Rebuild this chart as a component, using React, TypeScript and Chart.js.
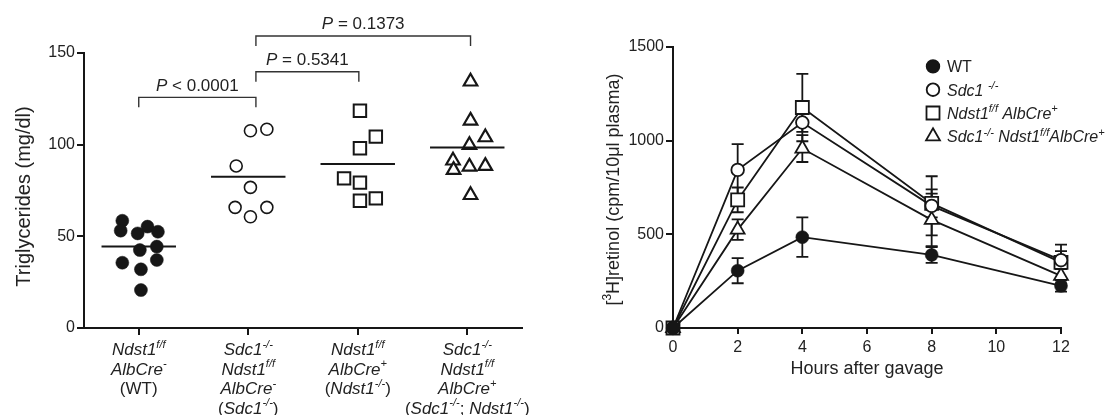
import React, { useEffect, useRef } from "react";
import { Chart, registerables } from "chart.js";

Chart.register(...registerables);

const FONT = "'Liberation Sans', Arial, Helvetica, sans-serif";
const INK = "#161616";
const TEXT = "#222222";

// ---------------- Left panel: triglycerides ----------------
const groupLabels: string[][] = [
  ["*Ndst1*^{f/f}", "*AlbCre*^{-}", "(WT)"],
  ["*Sdc1*^{-/-}", "*Ndst1*^{f/f}", "*AlbCre*^{-}", "(*Sdc1*^{-/-})"],
  ["*Ndst1*^{f/f}", "*AlbCre*^{+}", "(*Ndst1*^{-/-})"],
  ["*Sdc1*^{-/-}", "*Ndst1*^{f/f}", "*AlbCre*^{+}", "(*Sdc1*^{-/-}; *Ndst1*^{-/-})"],
];
const groupPositions = [0, 1, 2, 3];
const wtTG = [58.5, 53.1, 51.6, 55.3, 52.5, 42.5, 44.4, 35.6, 37.1, 32.0, 20.7];
const wtJitter = [-0.15, -0.165, -0.01, 0.08, 0.175, 0.01, 0.165, -0.15, 0.165, 0.02, 0.02];
const sdc1TG = [107.6, 108.4, 88.4, 76.7, 65.8, 60.7, 65.8];
const sdc1Jitter = [0.02, 0.17, -0.11, 0.02, -0.12, 0.02, 0.17];
const ndst1TG = [118.5, 104.4, 98.0, 81.6, 79.3, 69.4, 70.7];
const ndst1Jitter = [0.02, 0.165, 0.02, -0.125, 0.02, 0.02, 0.165];
const dkoTG = [134.4, 113.1, 104.0, 99.8, 91.3, 86.2, 88.0, 88.4, 72.5];
const dkoJitter = [0.03, 0.03, 0.165, 0.02, -0.13, -0.125, 0.02, 0.165, 0.03];
const groupMeans = [44.4, 82.5, 89.5, 98.5];
const tgTicks = [0, 50, 100, 150];
const tgTitle = "Triglycerides (mg/dl)";
const pLabels = ["*P* < 0.0001", "*P* = 0.5341", "*P* = 0.1373"];
const pFrom = [0, 1.07, 1.07];
const pTo = [1.07, 2.01, 3.03];
const pLevel = [125.8, 139.8, 159.3];

// ---------------- Right panel: retinol ----------------
const hours = [0, 2, 4, 8, 12];
const hourTicks = [0, 2, 4, 6, 8, 10, 12];
const retinolTicks = [0, 500, 1000, 1500];
const retinolWT = [0, 306, 485, 390, 225];
const retinolWTErr = [0, 67, 105, 42, 31];
const retinolSdc1 = [0, 844, 1097, 652, 362];
const retinolSdc1Err = [0, 138, 50, 158, 48];
const retinolNdst1 = [0, 684, 1177, 665, 350];
const retinolNdst1Err = [0, 66, 180, 75, 95];
const retinolDKO = [0, 525, 958, 577, 278];
const retinolDKOErr = [0, 55, 72, 140, 40];
const legendLabels = [
  "WT",
  "*Sdc1* ^{-/-}",
  "*Ndst1*^{f/f} *AlbCre*^{+}",
  "*Sdc1*^{-/-} *Ndst1*^{f/f}*AlbCre*^{+}",
];
const retinolTitle = "[^[3]H]retinol (cpm/10\u03bcl plasma)";
const hoursTitle = "Hours after gavage";

// ---------------- rich text helpers ----------------
type Seg = { t: string; it: boolean; sup: boolean };
function parseRich(s: string): Seg[] {
  return s
    .split(/(\*[^*]+\*|\^\{[^}]*\}|\^\[[^\]]*\])/)
    .filter((p) => p.length > 0)
    .map((p) => {
      if (p.length > 1 && p.startsWith("*") && p.endsWith("*")) return { t: p.slice(1, -1), it: true, sup: false };
      if (p.startsWith("^{")) return { t: p.slice(2, -1), it: true, sup: true };
      if (p.startsWith("^[")) return { t: p.slice(2, -1), it: false, sup: true };
      return { t: p, it: false, sup: false };
    });
}
function segFont(seg: Seg, size: number) {
  const s = seg.sup ? Math.round(size * 0.66) : size;
  return `${seg.it ? "italic " : ""}${s}px ${FONT}`;
}
function richWidth(ctx: CanvasRenderingContext2D, s: string, size: number) {
  let w = 0;
  for (const seg of parseRich(s)) {
    ctx.font = segFont(seg, size);
    w += ctx.measureText(seg.t).width;
  }
  return w;
}
function drawRich(
  ctx: CanvasRenderingContext2D,
  s: string,
  x: number,
  y: number,
  size: number,
  align: "left" | "center"
) {
  const total = richWidth(ctx, s, size);
  let cx = align === "center" ? x - total / 2 : x;
  ctx.textAlign = "left";
  ctx.textBaseline = "alphabetic";
  ctx.fillStyle = TEXT;
  for (const seg of parseRich(s)) {
    ctx.font = segFont(seg, size);
    ctx.fillText(seg.t, cx, seg.sup ? y - size * 0.42 : y);
    cx += ctx.measureText(seg.t).width;
  }
}

function axisStyle(tickLen: number) {
  return {
    grid: { display: true, drawOnChartArea: false, drawTicks: true, tickLength: tickLen, color: INK, lineWidth: 2 },
    border: { display: true, color: INK, width: 2 },
  };
}
const plainTick = (v: any) => String(v);

// ---------------- left chart ----------------
function leftConfig(): any {
  const pts = (vals: number[], jit: number[], g: number) => vals.map((v, i) => ({ x: groupPositions[g] + jit[i], y: v }));
  const meanHalf = 0.34;
  const meanSets = groupMeans.map((m, g) => ({
    data: [
      { x: groupPositions[g] - meanHalf, y: m },
      { x: groupPositions[g] + meanHalf, y: m },
    ],
    showLine: true,
    borderColor: INK,
    borderWidth: 2,
    pointRadius: 0,
    order: 0,
  }));
  const leftPlugin = {
    id: "leftDecor",
    afterDraw(chart: any) {
      const ctx: CanvasRenderingContext2D = chart.ctx;
      const xs = chart.scales.x;
      const ys = chart.scales.y;
      const area = chart.chartArea;
      ctx.save();
      // category labels
      groupLabels.forEach((lines, g) => {
        const cx = xs.getPixelForValue(groupPositions[g]);
        lines.forEach((ln, k) => drawRich(ctx, ln, cx, 355 + k * 19.5, 17, "center"));
      });
      // significance brackets
      ctx.strokeStyle = "#333";
      ctx.lineWidth = 1.4;
      pLabels.forEach((lab, i) => {
        const x1 = xs.getPixelForValue(pFrom[i]);
        const x2 = xs.getPixelForValue(pTo[i]);
        const y = ys.getPixelForValue(pLevel[i]);
        ctx.beginPath();
        ctx.moveTo(x1, y + 10);
        ctx.lineTo(x1, y);
        ctx.lineTo(x2, y);
        ctx.lineTo(x2, y + 10);
        ctx.stroke();
        drawRich(ctx, lab, (x1 + x2) / 2, y - 6.5, 17, "center");
      });
      // y title
      ctx.translate(24, (area.top + area.bottom) / 2 + 6);
      ctx.rotate(-Math.PI / 2);
      ctx.font = `20px ${FONT}`;
      ctx.fillStyle = TEXT;
      ctx.textAlign = "center";
      ctx.textBaseline = "middle";
      ctx.fillText(tgTitle, 0, 0);
      ctx.restore();
    },
  };
  return {
    type: "scatter",
    data: {
      datasets: [
        ...meanSets,
        { data: pts(wtTG, wtJitter, 0), pointStyle: "circle", pointRadius: 6.5, backgroundColor: INK, borderColor: INK, borderWidth: 0.5, order: 1 },
        { data: pts(sdc1TG, sdc1Jitter, 1), pointStyle: "circle", pointRadius: 6.0, backgroundColor: "#fff", borderColor: INK, borderWidth: 1.6, order: 1 },
        { data: pts(ndst1TG, ndst1Jitter, 2), pointStyle: "rect", pointRadius: 8.8, backgroundColor: "#fff", borderColor: INK, borderWidth: 2, order: 1 },
        { data: pts(dkoTG, dkoJitter, 3), pointStyle: "triangle", pointRadius: 7.8, backgroundColor: "#fff", borderColor: INK, borderWidth: 2.2, order: 1 },
      ],
    },
    options: {
      animation: false,
      responsive: false,
      events: [],
      layout: { padding: { left: 0, right: 38, top: 53, bottom: 0 } },
      plugins: { legend: { display: false }, tooltip: { enabled: false } },
      scales: {
        x: {
          type: "linear",
          min: -0.5,
          max: 3.5,
          afterBuildTicks: (a: any) => {
            a.ticks = groupPositions.map((v) => ({ value: v }));
          },
          ticks: { display: false },
          ...axisStyle(7),
          afterFit: (a: any) => {
            a.height = 87;
          },
        },
        y: {
          type: "linear",
          min: 0,
          max: 150,
          afterBuildTicks: (a: any) => {
            a.ticks = tgTicks.map((v) => ({ value: v }));
          },
          ticks: { font: { family: FONT, size: 16 }, color: TEXT, padding: 2, callback: plainTick },
          ...axisStyle(7),
          afterFit: (a: any) => {
            a.width = 84;
          },
        },
      },
    },
    plugins: [leftPlugin],
  };
}

// ---------------- right chart ----------------
function rightConfig(): any {
  const series = [
    { vals: retinolWT, err: retinolWTErr, style: "circle", r: 6.5, fill: INK, bw: 0.5 },
    { vals: retinolSdc1, err: retinolSdc1Err, style: "circle", r: 6.3, fill: "#fff", bw: 1.8 },
    { vals: retinolNdst1, err: retinolNdst1Err, style: "rect", r: 9.2, fill: "#fff", bw: 1.8 },
    { vals: retinolDKO, err: retinolDKOErr, style: "triangle", r: 8, fill: "#fff", bw: 1.8 },
  ];
  const errPlugin = {
    id: "errBars",
    beforeDatasetsDraw(chart: any) {
      const ctx: CanvasRenderingContext2D = chart.ctx;
      const xs = chart.scales.x;
      const ys = chart.scales.y;
      ctx.save();
      ctx.strokeStyle = INK;
      ctx.lineWidth = 1.8;
      series.forEach((s) => {
        s.vals.forEach((v, i) => {
          const e = s.err[i];
          if (!e) return;
          const x = xs.getPixelForValue(hours[i]);
          const yt = ys.getPixelForValue(v + e);
          const yb = ys.getPixelForValue(v - e);
          ctx.beginPath();
          ctx.moveTo(x, yt);
          ctx.lineTo(x, yb);
          ctx.moveTo(x - 6, yt);
          ctx.lineTo(x + 6, yt);
          ctx.moveTo(x - 6, yb);
          ctx.lineTo(x + 6, yb);
          ctx.stroke();
        });
      });
      ctx.restore();
    },
    afterDraw(chart: any) {
      const ctx: CanvasRenderingContext2D = chart.ctx;
      const area = chart.chartArea;
      ctx.save();
      // legend
      series.forEach((s, i) => {
        const mx = area.left + 260;
        const my = area.top + 19.4 + i * 23.3;
        ctx.beginPath();
        ctx.lineWidth = 1.8;
        ctx.strokeStyle = INK;
        ctx.fillStyle = s.fill;
        if (s.style === "circle") {
          ctx.arc(mx, my, 6.3, 0, Math.PI * 2);
        } else if (s.style === "rect") {
          ctx.rect(mx - 6.5, my - 6.5, 13, 13);
        } else {
          const r = 8;
          ctx.moveTo(mx, my - r);
          ctx.lineTo(mx + r * 0.866, my + r / 2);
          ctx.lineTo(mx - r * 0.866, my + r / 2);
          ctx.closePath();
        }
        ctx.fill();
        ctx.stroke();
        drawRich(ctx, legendLabels[i], area.left + 274, my + 6, 16, "left");
      });
      // y title
      ctx.save();
      ctx.translate(area.left - 61, (area.top + area.bottom) / 2 + 2);
      ctx.rotate(-Math.PI / 2);
      drawRich(ctx, retinolTitle, 0, 6.5, 18, "center");
      ctx.restore();
      // x title
      ctx.font = `18px ${FONT}`;
      ctx.fillStyle = TEXT;
      ctx.textAlign = "center";
      ctx.textBaseline = "middle";
      ctx.fillText(hoursTitle, (area.left + area.right) / 2, 369);
      ctx.restore();
    },
  };
  return {
    type: "scatter",
    data: {
      datasets: series.map((s) => ({
        data: s.vals.map((v, i) => ({ x: hours[i], y: v })),
        showLine: true,
        borderColor: INK,
        borderWidth: 1.8,
        pointStyle: s.style,
        pointRadius: s.r,
        pointBackgroundColor: s.fill,
        pointBorderColor: INK,
        pointBorderWidth: s.bw,
        clip: false,
      })),
    },
    options: {
      animation: false,
      responsive: false,
      events: [],
      layout: { padding: { left: 0, right: 50, top: 47, bottom: 0 } },
      plugins: { legend: { display: false }, tooltip: { enabled: false } },
      scales: {
        x: {
          type: "linear",
          min: 0,
          max: 12,
          afterBuildTicks: (a: any) => {
            a.ticks = hourTicks.map((v) => ({ value: v }));
          },
          ticks: { font: { family: FONT, size: 16 }, color: TEXT, padding: 4, maxRotation: 0, callback: plainTick },
          ...axisStyle(6),
          afterFit: (a: any) => {
            a.height = 87;
          },
        },
        y: {
          type: "linear",
          min: 0,
          max: 1500,
          afterBuildTicks: (a: any) => {
            a.ticks = retinolTicks.map((v) => ({ value: v }));
          },
          ticks: { font: { family: FONT, size: 16 }, color: TEXT, padding: 2, callback: plainTick },
          ...axisStyle(7),
          afterFit: (a: any) => {
            a.width = 113;
          },
        },
      },
    },
    plugins: [errPlugin],
  };
}

export default function App() {
  const leftRef = useRef<HTMLCanvasElement>(null);
  const rightRef = useRef<HTMLCanvasElement>(null);
  useEffect(() => {
    const c1 = new Chart(leftRef.current as HTMLCanvasElement, leftConfig());
    const c2 = new Chart(rightRef.current as HTMLCanvasElement, rightConfig());
    return () => {
      c1.destroy();
      c2.destroy();
    };
  }, []);
  return (
    <div style={{ position: "absolute", left: 0, top: 0, width: 1111, height: 415, background: "#fff", overflow: "hidden" }}>
      <canvas ref={leftRef} width={560} height={415} style={{ position: "absolute", left: 0, top: 0, width: 560, height: 415 }} />
      <canvas ref={rightRef} width={551} height={415} style={{ position: "absolute", left: 560, top: 0, width: 551, height: 415 }} />
    </div>
  );
}
